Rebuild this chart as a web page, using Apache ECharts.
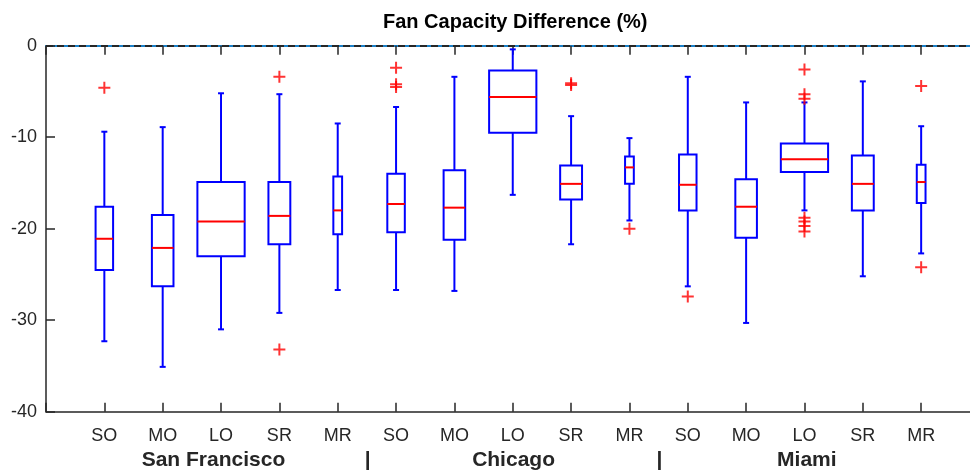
<!DOCTYPE html>
<html>
<head>
<meta charset="utf-8">
<script src="https://cdn.jsdelivr.net/npm/echarts@6/dist/echarts.min.js"></script>
<style>
  html, body { margin: 0; padding: 0; background: #fff; }
  #chart { width: 970px; height: 470px; }
</style>
</head>
<body>
<div id="chart"></div>
<script>
// categories
const cities = ['San Francisco', 'Chicago', 'Miami'];
const fanTypes = ['SO', 'MO', 'LO', 'SR', 'MR'];
const categories = [].concat(...cities.map(() => fanTypes));

// box statistics (%), one entry per category, left to right
const whiskerHigh = [-9.4, -8.9, -5.2, -5.3, -8.5,   -6.7, -3.4, -0.4, -7.7, -10.1,   -3.4, -6.2, -6.2, -3.9, -8.8];
const upperQuart  = [-17.6, -18.5, -14.9, -14.9, -14.3,   -14.0, -13.6, -2.7, -13.1, -12.1,   -11.9, -14.6, -10.7, -12.0, -13.0];
const medians     = [-21.1, -22.1, -19.2, -18.6, -18.0,   -17.3, -17.7, -5.6, -15.1, -13.3,   -15.2, -17.6, -12.4, -15.1, -14.9];
const lowerQuart  = [-24.5, -26.3, -23.0, -21.7, -20.6,   -20.4, -21.2, -9.5, -16.8, -15.1,   -18.0, -21.0, -13.8, -18.0, -17.2];
const whiskerLow  = [-32.3, -35.1, -31.0, -29.2, -26.7,   -26.7, -26.8, -16.3, -21.7, -19.1,   -26.3, -30.3, -18.0, -25.2, -22.7];

// outliers: [category number (1-based), value]
const outliers = [
  [1, -4.6],
  [4, -3.4], [4, -33.2],
  [6, -2.4], [6, -4.2], [6, -4.5],
  [9, -4.1], [9, -4.3],
  [10, -20.0],
  [11, -27.4],
  [13, -2.6], [13, -5.3], [13, -5.8], [13, -18.8], [13, -19.2], [13, -19.7], [13, -20.3],
  [15, -4.4], [15, -24.2]
];

const yTicks = [-40, -30, -20, -10, 0];

// box widths per fan type (x units)
const boxWidth = { SO: 0.30, MO: 0.37, LO: 0.81, SR: 0.375, MR: 0.15 };

const chart = echarts.init(document.getElementById('chart'));

const boxData = categories.map((c, i) =>
  [i + 1, whiskerLow[i], lowerQuart[i], medians[i], upperQuart[i], whiskerHigh[i], boxWidth[c]]);

const txt = '#262626';
const font = 'Liberation Sans';

function renderBox(params, api) {
  const x = api.value(0);
  const w = api.size([api.value(6), 0])[0];
  const pLow = api.coord([x, api.value(1)]);
  const pQ1 = api.coord([x, api.value(2)]);
  const pMed = api.coord([x, api.value(3)]);
  const pQ3 = api.coord([x, api.value(4)]);
  const pHigh = api.coord([x, api.value(5)]);
  const cap = 3;
  const blue = { stroke: '#0000ff', lineWidth: 2, fill: null };
  return {
    type: 'group',
    children: [
      { type: 'line', shape: { x1: pQ3[0], y1: pQ3[1], x2: pHigh[0], y2: pHigh[1] }, style: blue },
      { type: 'line', shape: { x1: pQ1[0], y1: pQ1[1], x2: pLow[0], y2: pLow[1] }, style: blue },
      { type: 'line', shape: { x1: pHigh[0] - cap, y1: pHigh[1], x2: pHigh[0] + cap, y2: pHigh[1] }, style: blue },
      { type: 'line', shape: { x1: pLow[0] - cap, y1: pLow[1], x2: pLow[0] + cap, y2: pLow[1] }, style: blue },
      { type: 'rect', shape: { x: pQ3[0] - w / 2, y: pQ3[1], width: w, height: pQ1[1] - pQ3[1] }, style: blue },
      { type: 'line', shape: { x1: pMed[0] - w / 2, y1: pMed[1], x2: pMed[0] + w / 2, y2: pMed[1] },
        style: { stroke: '#ff0000', lineWidth: 2 } }
    ]
  };
}

const option = {
  animation: false,
  title: {
    text: 'Fan Capacity Difference (%)',
    left: 378,
    top: 7,
    textStyle: { fontFamily: font, fontSize: 20, fontWeight: 'bold', color: '#000' }
  },
  grid: { left: 46, top: 45.7, right: -9.5, bottom: 58.3, outerBoundsMode: 'none', containLabel: false },
  xAxis: [{
    type: 'value',
    position: 'bottom',
    min: 0, max: 16, interval: 1,
    splitLine: { show: false },
    axisLine: { onZero: false, lineStyle: { color: txt, width: 1.5 } },
    axisTick: { inside: true, length: 9, lineStyle: { color: txt, width: 1.5 } },
    axisLabel: {
      margin: 15,
      fontFamily: font, fontSize: 18, color: txt,
      formatter: v => (v >= 1 && v <= 15) ? categories[v - 1] : ''
    },
    name: '{a|San Francisco}{s||}{b|Chicago}{s||}{c|Miami}{e| }',
    nameLocation: 'middle',
    nameGap: 37,
    nameTextStyle: {
      fontFamily: font, fontSize: 21, fontWeight: 'bold', color: txt,
      rich: {
        a: { width: 154.4, align: 'center', fontFamily: font, fontSize: 21, fontWeight: 'bold', color: txt },
        s: { width: 154, align: 'center', fontFamily: font, fontSize: 21, color: txt },
        b: { width: 137.8, align: 'center', fontFamily: font, fontSize: 21, fontWeight: 'bold', color: txt },
        c: { width: 140.8, align: 'center', fontFamily: font, fontSize: 21, fontWeight: 'bold', color: txt },
        e: { width: 12, fontSize: 21 }
      }
    }
  }, {
    type: 'value',
    position: 'top',
    min: 0, max: 16, interval: 1,
    splitLine: { show: false },
    axisLine: { onZero: false, lineStyle: { color: '#1a7fc6', width: 2 } },
    axisTick: { inside: true, length: 9, lineStyle: { color: txt, width: 1.5 } },
    axisLabel: { show: false }
  }],
  yAxis: {
    type: 'value',
    min: yTicks[0], max: yTicks[yTicks.length - 1], interval: 10,
    splitLine: { show: false },
    axisLine: { show: true, onZero: false, lineStyle: { color: txt, width: 1.5 } },
    axisTick: { show: true, inside: true, length: 9, lineStyle: { color: txt, width: 1.5 } },
    axisLabel: { margin: 9, fontFamily: font, fontSize: 18, color: txt }
  },
  series: [{
    type: 'custom',
    xAxisIndex: 0,
    renderItem: renderBox,
    data: boxData,
    encode: { x: 0, y: [1, 2, 3, 4, 5] },
    markLine: {
      silent: true,
      symbol: 'none',
      label: { show: false },
      lineStyle: { color: txt, type: [7, 4], width: 2, opacity: 1 },
      data: [{ yAxis: 0 }]
    }
  }, {
    type: 'scatter',
    xAxisIndex: 0,
    data: outliers,
    symbol: 'path://M5,0L5,10M0,5L10,5',
    symbolSize: 12,
    itemStyle: { color: 'none', borderColor: '#ff0000', borderWidth: 2 }
  }]
};

chart.setOption(option);
</script>
</body>
</html>
